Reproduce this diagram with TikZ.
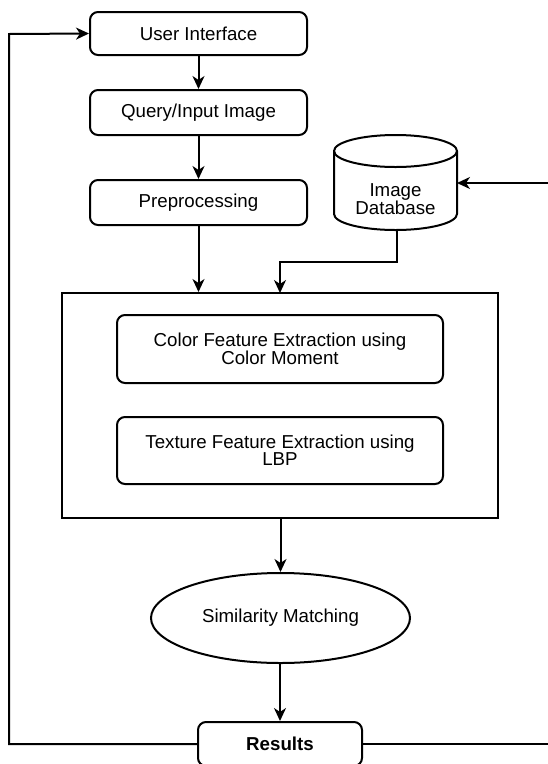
\documentclass[tikz,border=0pt]{standalone}
\usepackage{fontspec}
\setmainfont{Liberation Sans}
\usetikzlibrary{arrows.meta,shapes.geometric}

\tikzset{
  stepbox/.style={draw, line width=2pt, rounded corners=8pt, align=center,
    font=\fontsize{18.7}{17.3}\selectfont},
  flow/.style={line width=2pt, -{Stealth[length=13pt,width=12pt,inset=4pt]}},
}

\begin{document}
\begin{tikzpicture}[x=1pt,y=-1pt]
  \useasboundingbox (0,0) rectangle (547,764);
  \fill[white] (0,0) rectangle (547,764);

  % pipeline steps
  \node[stepbox, minimum width=217pt, minimum height=43pt] (ui) at (198.5,33.5) {User Interface};
  \node[stepbox, minimum width=217pt, minimum height=45pt] (query) at (198.5,112.5) {Query/Input Image};
  \node[stepbox, minimum width=217pt, minimum height=45pt] (pre) at (198.5,202.5) {Preprocessing};

  % image database cylinder (y axis points down, so angle 90 is the lower side)
  \draw[line width=2pt, fill=white]
    (334,151) -- (334,214) arc[start angle=180, end angle=0, x radius=61.5, y radius=16]
    -- (457,151) arc[start angle=0, end angle=-180, x radius=61.5, y radius=16] -- cycle;
  \draw[line width=2pt] (334,151) arc[start angle=180, end angle=0, x radius=61.5, y radius=16];
  \node[align=center, font=\fontsize{18.7}{17.3}\selectfont] (db) at (395.5,199) {Image\\Database};
  \coordinate (dbbot) at (397,230);
  \coordinate (dbeast) at (457,183);

  % feature extraction block
  \node[draw, line width=2pt, minimum width=436pt, minimum height=225pt] (feat) at (280,405.5) {};
  \node[stepbox, minimum width=326pt, minimum height=68pt] (color) at (280,349) {Color Feature Extraction using\\Color Moment};
  \node[stepbox, minimum width=326pt, minimum height=67pt] (texture) at (280,450.5) {Texture Feature Extraction using\\LBP};

  % matching and results
  \node[draw, ellipse, line width=2pt, minimum width=259pt, minimum height=90pt,
        font=\fontsize{18.7}{17.3}\selectfont] (sim) at (280.5,618) {Similarity Matching};
  \node[stepbox, minimum width=164pt, minimum height=44pt, font=\fontsize{18.7}{17.3}\selectfont\bfseries] (res) at (280,744) {Results};

  % main flow
  \draw[flow] (ui) -- (query);
  \draw[flow] (query) -- (pre);
  \draw[flow] (pre.south) -- (pre.south |- feat.north);
  \draw[flow] (dbbot) -- (397,262) -- (280,262) -- (280,293);
  \draw[flow] (feat.south -| sim.north) -- (sim.north);
  \draw[flow] (sim.south -| res.north) -- (res.north);

  % feedback loops
  \draw[flow] (res.west) -- (9,744) -- (9,34) -- (ui.west);
  \draw[flow] (res.east) -- (549,744) -- (549,183) -- (dbeast);
\end{tikzpicture}
\end{document}
